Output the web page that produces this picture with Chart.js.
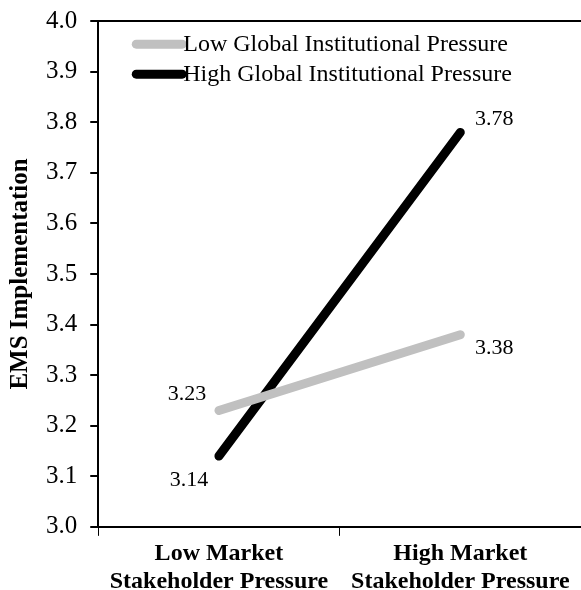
<!DOCTYPE html>
<html>
<head>
<meta charset="utf-8">
<script src="https://cdn.jsdelivr.net/npm/chart.js@4"></script>
<style>
  html, body { margin: 0; padding: 0; background: #fff; overflow: hidden; }
  #wrap { width: 581px; height: 590px; }
</style>
</head>
<body>
<div id="wrap"><canvas id="chart" width="581" height="590"></canvas></div>
<script>
const categories = [['Low Market', 'Stakeholder Pressure'], ['High Market', 'Stakeholder Pressure']];
const seriesNames = ['Low Global Institutional Pressure', 'High Global Institutional Pressure'];
const lowGlobal = [3.23, 3.38];
const highGlobal = [3.14, 3.78];
const yTicks = [3.0, 3.1, 3.2, 3.3, 3.4, 3.5, 3.6, 3.7, 3.8, 3.9, 4.0];

const SERIF = '"Liberation Serif", "Times New Roman", serif';

// label offsets per series / point (dx, dy from the point)
const LABEL_OFFSETS = [
  [[-32, -16], [34, 14]],
  [[-30, 24], [34, -13]]
];

const pointLabels = {
  id: 'pointLabels',
  afterDatasetsDraw(chart) {
    const ctx = chart.ctx;
    ctx.save();
    ctx.font = '22px ' + SERIF;
    ctx.fillStyle = '#000';
    ctx.textAlign = 'center';
    ctx.textBaseline = 'middle';
    chart.data.datasets.forEach((ds, i) => {
      chart.getDatasetMeta(i).data.forEach((pt, j) => {
        const off = LABEL_OFFSETS[i][j];
        ctx.fillText(ds.data[j].toFixed(2), pt.x + off[0], pt.y + off[1]);
      });
    });
    ctx.restore();
  }
};

const insideLegend = {
  id: 'insideLegend',
  afterDraw(chart) {
    const ctx = chart.ctx;
    const a = chart.chartArea;
    ctx.save();
    ctx.font = '24px ' + SERIF;
    ctx.textBaseline = 'middle';
    chart.data.datasets.forEach((ds, i) => {
      const y = a.top + 23 + i * 30;
      const x = a.left + 38;
      ctx.strokeStyle = ds.borderColor;
      ctx.lineWidth = 9;
      ctx.lineCap = 'round';
      ctx.beginPath();
      ctx.moveTo(x, y);
      ctx.lineTo(x + 46, y);
      ctx.stroke();
      ctx.fillStyle = '#000';
      ctx.fillText(ds.label, x + 47, y + 1);
    });
    ctx.restore();
  }
};

new Chart(document.getElementById('chart').getContext('2d'), {
  type: 'line',
  data: {
    labels: categories,
    datasets: [
      { label: seriesNames[0], data: lowGlobal, borderColor: '#c0c0c0', borderWidth: 9, borderCapStyle: 'round', pointRadius: 0, tension: 0 },
      { label: seriesNames[1], data: highGlobal, borderColor: '#000000', borderWidth: 9, borderCapStyle: 'round', pointRadius: 0, tension: 0 }
    ]
  },
  options: {
    responsive: false,
    animation: false,
    layout: { padding: { top: 0, right: -5, left: 8, bottom: -10 } },
    plugins: { legend: { display: false }, tooltip: { enabled: false } },
    scales: {
      x: {
        offset: true,
        grid: { display: true, offset: true, drawOnChartArea: false, color: '#000', tickLength: 9 },
        border: { color: '#000', width: 2 },
        ticks: { color: '#000', font: { family: SERIF, size: 24, weight: 'bold', lineHeight: 1.17 }, padding: 4, maxRotation: 0 }
      },
      y: {
        min: 3.0,
        max: 4.0,
        afterBuildTicks: (axis) => { axis.ticks = yTicks.map(v => ({ value: v })); },
        grid: { color: (c) => (c.tick && c.tick.value === 4 ? '#000' : 'rgba(0,0,0,0)'), lineWidth: 2, tickColor: '#000', tickLength: 8 },
        border: { color: '#000', width: 2 },
        ticks: { color: '#000', font: { family: SERIF, size: 25, lineHeight: 0.65 }, padding: 13, callback: (v) => Number(v).toFixed(1) },
        title: { display: true, text: 'EMS Implementation', color: '#000', font: { family: SERIF, size: 25, weight: 'bold', lineHeight: 1.0 }, padding: { top: 0, bottom: 0 } }
      }
    }
  },
  plugins: [pointLabels, insideLegend]
});
</script>
</body>
</html>
